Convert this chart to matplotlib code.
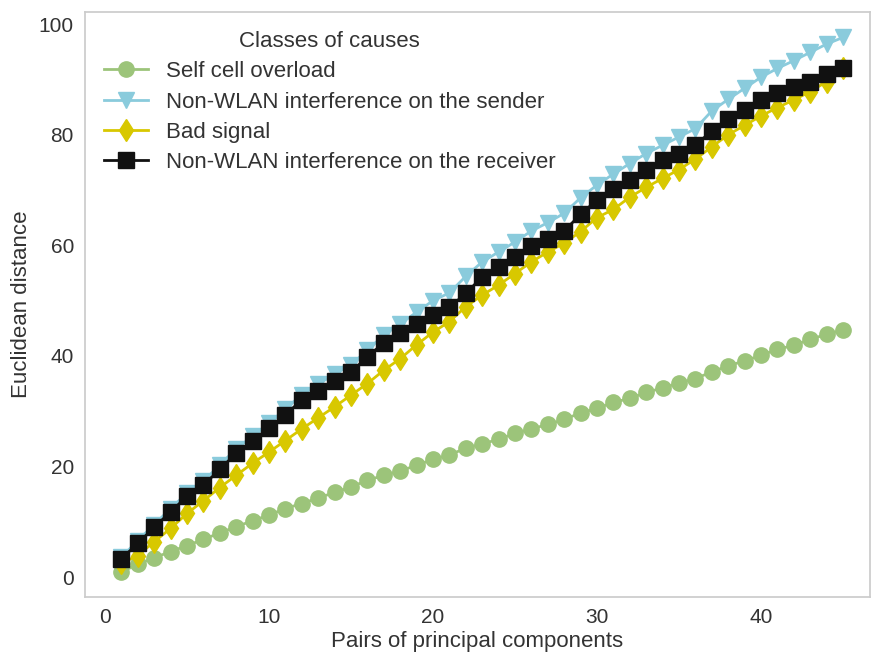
import numpy as np
import matplotlib
matplotlib.use("Agg")
import matplotlib.pyplot as plt

plt.rcParams['font.family'] = ['Liberation Sans', 'DejaVu Sans']

# pairs of principal components
pairs = list(range(1, 46))

self_cell = [0.95, 2.3, 3.5, 4.6, 5.7, 6.8, 8.0, 9.1, 10.2, 11.2,
             12.4, 13.3, 14.3, 15.3, 16.3, 17.5, 18.4, 19.2, 20.2, 21.3,
             22.1, 23.3, 24.1, 24.9, 26.0, 26.8, 27.6, 28.5, 29.7, 30.5,
             31.6, 32.3, 33.4, 34.2, 35.1, 35.9, 37.1, 38.2, 39.1, 40.1,
             41.2, 41.9, 43.0, 43.9, 44.7]

sender = [3.6, 6.6, 9.5, 12.4, 15.2, 17.3, 20.3, 23.2, 25.5, 27.8,
          30.4, 33.0, 34.9, 36.7, 38.4, 41.0, 43.8, 45.8, 47.9, 50.0,
          51.4, 54.4, 57.0, 58.8, 60.6, 62.6, 64.1, 65.8, 68.6, 70.9,
          72.9, 74.8, 76.6, 78.1, 79.6, 81.1, 84.3, 86.4, 88.4, 90.4,
          92.0, 93.4, 94.9, 96.4, 97.6]

bad_signal = [2.5, 3.9, 6.4, 8.8, 11.5, 13.8, 16.2, 18.4, 20.6, 22.6,
              24.7, 26.8, 28.8, 30.8, 32.9, 35.0, 37.4, 39.5, 42.0, 44.3,
              46.2, 48.9, 51.0, 52.8, 54.9, 57.0, 58.8, 60.4, 62.5, 65.0,
              66.5, 68.7, 70.5, 72.1, 73.7, 75.6, 77.8, 80.0, 81.7, 83.4,
              84.9, 86.3, 87.8, 89.6, 92.0]

receiver = [3.3, 6.1, 9.0, 11.8, 14.6, 16.6, 19.5, 22.4, 24.7, 26.9,
            29.4, 32.0, 33.7, 35.4, 37.1, 39.8, 42.4, 44.1, 45.8, 47.4,
            48.8, 51.3, 54.3, 56.1, 57.9, 59.9, 61.1, 62.6, 65.6, 68.2,
            70.1, 71.8, 73.7, 75.4, 76.6, 78.1, 80.7, 82.9, 84.4, 86.3,
            87.5, 88.6, 89.6, 91.0, 92.1]

labels = ["Self cell overload", "Non-WLAN interference on the sender",
          "Bad signal", "Non-WLAN interference on the receiver"]
text_col = '#333333'

fig = plt.figure(figsize=(8.72, 6.53), dpi=100)
ax = fig.add_axes([0.0975, 0.0858, 0.9002, 0.8958])

ax.plot(pairs, self_cell, marker='o', color='#9cc47a', ms=11, lw=2, label=labels[0])
ax.plot(pairs, sender, marker='v', color='#8acbdc', ms=11, lw=2, label=labels[1])
ax.plot(pairs, bad_signal, marker='d', color='#d8c800', ms=11.5, lw=2, label=labels[2])
ax.plot(pairs, receiver, marker='s', color='#111111', ms=11, lw=2, label=labels[3])

ax.set_xlim(-1.22, 46.65)
ax.set_ylim(-3.6, 102.2)
ax.set_xticks([0, 10, 20, 30, 40])
ax.set_yticks([0, 20, 40, 60, 80, 100])
ax.tick_params(length=0, labelsize=15, colors=text_col, pad=8)
for s in ax.spines.values():
    s.set_color('#cccccc')
    s.set_linewidth(1.25)

ax.set_xlabel("Pairs of principal components", fontsize=16, color=text_col, labelpad=3)
ax.set_ylabel("Euclidean distance", fontsize=16, color=text_col, labelpad=5)

leg = ax.legend(loc='upper left', frameon=False, fontsize=16,
                title="Classes of causes", title_fontsize=16,
                borderaxespad=0.45, borderpad=0.4, labelspacing=0.42)
for t in leg.get_texts():
    t.set_color(text_col)
leg.get_title().set_color(text_col)

fig.savefig("out.png", dpi=100)
